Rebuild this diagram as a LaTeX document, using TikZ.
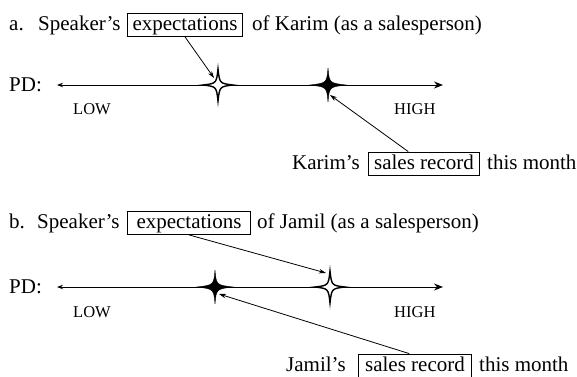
\documentclass[tikz,border=0pt]{standalone}
\usepackage{fontspec}
\setmainfont{Liberation Serif}
\usetikzlibrary{arrows.meta,calc}
\tikzset{
  txt/.style={anchor=base west, inner sep=0pt, font=\fontsize{21}{25}\selectfont},
  lab/.style={anchor=base west, inner sep=0pt, font=\fontsize{16.5}{20}\selectfont},
  wordbox/.style={draw, line width=0.8pt, anchor=base, inner ysep=2pt, text height=15pt, text depth=4.5pt, font=\fontsize{21}{25}\selectfont},
  scale line/.style={line width=1pt, {Stealth[length=6pt,width=4.5pt]}-{Stealth[length=9pt,width=7pt]}},
  pointer/.style={line width=0.8pt, -{Stealth[length=7pt,width=4.5pt]}},
  openstar/.style={line width=1.4pt, fill=white, draw=black},
  fullstar/.style={fill=black, draw=black, line width=0.4pt},
  starpt/.style={circle, inner sep=0pt, minimum size=1pt}
}
\begin{document}
\begin{tikzpicture}[x=1pt,y=1pt]
\useasboundingbox (0,0) rectangle (577,376);

% ---------- part a ----------
\node[txt] (aa) at (9,346) {a.};
\node[txt] (asp) at (38,346) {Speaker’s};
\node[wordbox, inner xsep=5pt] (aexp) at (185,346) {expectations};
\node[txt] (aof) at (252,346) {of Karim (as a salesperson)};

\node[txt] (apd) at (9,285) {PD:};
\coordinate (al) at (57,291);
\coordinate (ar) at (443,291);
\draw[scale line] (al) -- (ar);
\node[lab] (alow) at (73,262) {LOW};
\node[lab] (ahigh) at (394,262) {HIGH};

\node[starpt] (astA) at (218,291) {};
\node[starpt] (astB) at (328,291) {};
\fill[fullstar] (astB) ++(0,17) .. controls ++(1.3,-15) .. ++(18,-17) .. controls ++(-16.7,-2) .. ++(-18,-17) .. controls ++(-1.3,15) .. ++(-18,17) .. controls ++(16.7,2) .. cycle;
\draw[openstar] (astA) ++(0,16) .. controls ++(1.6,-14.4) .. ++(15,-16) .. controls ++(-13.4,-1.6) .. ++(-15,-16) .. controls ++(-1.6,14.4) .. ++(-15,16) .. controls ++(13.4,1.6) .. cycle;

\node[txt] (akar) at (292,207) {Karim’s};
\node[wordbox, inner xsep=6pt] (asr) at (424,207) {sales record};
\node[txt] (athis) at (487,207) {this month};

\coordinate (atipA) at (214,298);
\coordinate (atipB) at (330,281);
\draw[pointer] (aexp.south) -- (atipA);
\draw[pointer] ($(asr.north west)!0.36!(asr.north east)$) -- (atipB);

% ---------- part b ----------
\node[txt] (bb) at (9,148) {b.};
\node[txt] (bsp) at (37,148) {Speaker’s};
\node[wordbox, inner xsep=9pt] (bexp) at (189,148) {expectations};
\node[txt] (bof) at (257,148) {of Jamil (as a salesperson)};

\node[txt] (bpd) at (9,83) {PD:};
\coordinate (bl) at (57,89);
\coordinate (br) at (443,89);
\draw[scale line] (bl) -- (br);
\node[lab] (blow) at (73,59) {LOW};
\node[lab] (bhigh) at (394,59) {HIGH};

\node[starpt] (bstA) at (215,89) {};
\node[starpt] (bstB) at (330,89) {};
\fill[fullstar] (bstA) ++(0,17) .. controls ++(1.3,-15) .. ++(18,-17) .. controls ++(-16.7,-2) .. ++(-18,-17) .. controls ++(-1.3,15) .. ++(-18,17) .. controls ++(16.7,2) .. cycle;
\draw[openstar] (bstB) ++(0,16) .. controls ++(1.6,-14.4) .. ++(15,-16) .. controls ++(-13.4,-1.6) .. ++(-15,-16) .. controls ++(-1.6,14.4) .. ++(-15,16) .. controls ++(13.4,1.6) .. cycle;

\node[txt] (bjam) at (286,5) {Jamil’s};
\node[wordbox, inner xsep=7pt] (bsr) at (415,5) {sales record};
\node[txt] (bthis) at (479,5) {this month};

\coordinate (btipB) at (326,103);
\coordinate (btipA) at (219,82);
\draw[pointer] (bexp.south) -- (btipB);
\draw[pointer] ($(bsr.north west)!0.45!(bsr.north east)$) -- (btipA);
\end{tikzpicture}
\end{document}
